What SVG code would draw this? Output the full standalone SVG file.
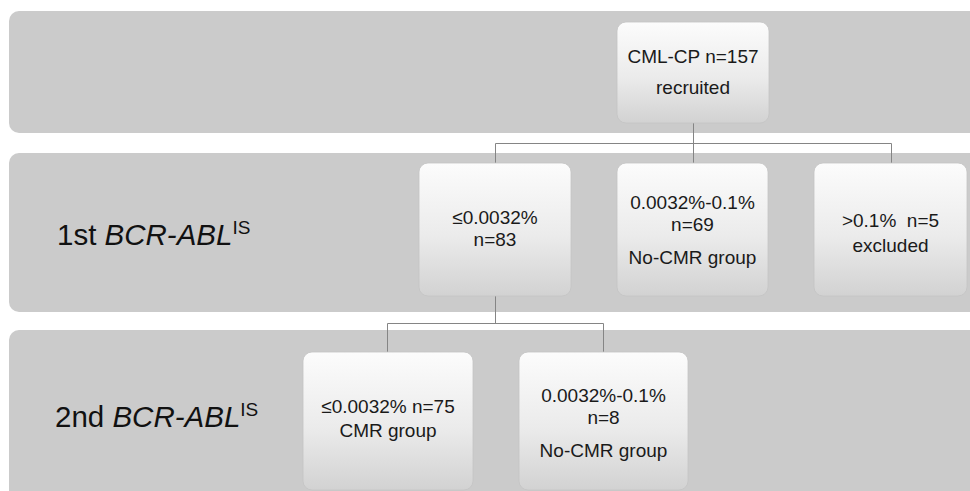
<svg xmlns="http://www.w3.org/2000/svg" width="970" height="491" viewBox="0 0 970 491">
<defs>
<linearGradient id="ng" x1="0" y1="0" x2="0" y2="1">
<stop offset="0" stop-color="#fcfcfc"/>
<stop offset="0.55" stop-color="#ebebeb"/>
<stop offset="1" stop-color="#d2d2d2"/>
</linearGradient>
<style>
.band{fill:#cbcbcb;}
.node{fill:url(#ng);stroke:#c4c4c4;stroke-width:0.8;}
.nt{font-family:"Liberation Sans",Arial,sans-serif;font-size:19px;fill:#1a1a1a;text-anchor:middle;}
.lab{font-family:"Liberation Sans",Arial,sans-serif;font-size:29.5px;fill:#111;}
.sup{font-size:19px;}
.conn{fill:none;stroke:#858585;stroke-width:1;}
</style>
</defs>
<rect width="970" height="491" fill="#ffffff"/>
<g id="bands">
<rect class="band" x="9" y="11" width="990" height="122" rx="10"/>
<rect class="band" x="9" y="153" width="990" height="159" rx="10"/>
<rect class="band" x="9" y="330" width="990" height="190" rx="10"/>
</g>
<g id="labels">
<text class="lab" x="57" y="245">1st <tspan font-style="italic">BCR-ABL</tspan><tspan class="sup" dy="-11">IS</tspan></text>
<text class="lab" x="55" y="427">2nd <tspan font-style="italic">BCR-ABL</tspan><tspan class="sup" dy="-11">IS</tspan></text>
</g>
<g id="connectors">
<path class="conn" d="M693.5 123V143.5M495.5 143.5H891.5M495.5 143.5V163M693.5 143.5V163M891.5 143.5V164"/>
<path class="conn" d="M495.5 296V323.5M387.5 323.5H603.5M387.5 323.5V352M603.5 323.5V352"/>
</g>
<g id="n-recruited">
<rect class="node" x="617" y="22" width="152" height="101" rx="9"/>
<text class="nt" x="693" y="63">CML-CP n=157</text>
<text class="nt" x="693" y="94">recruited</text>
</g>
<g id="n-1st-low">
<rect class="node" x="419" y="163" width="152" height="133" rx="9"/>
<text class="nt" x="495" y="224">≤0.0032%</text>
<text class="nt" x="495" y="246">n=83</text>
</g>
<g id="n-1st-mid">
<rect class="node" x="617" y="163" width="151" height="133" rx="9"/>
<text class="nt" x="692.5" y="209">0.0032%-0.1%</text>
<text class="nt" x="692.5" y="231">n=69</text>
<text class="nt" x="692.5" y="264">No-CMR group</text>
</g>
<g id="n-1st-high">
<rect class="node" x="814" y="163" width="153" height="133" rx="9"/>
<text class="nt" x="890.5" y="227" style="white-space:pre">&gt;0.1%  n=5</text>
<text class="nt" x="890.5" y="252">excluded</text>
</g>
<g id="n-2nd-cmr">
<rect class="node" x="303" y="352" width="170" height="138" rx="9"/>
<text class="nt" x="388" y="413">≤0.0032% n=75</text>
<text class="nt" x="388" y="437">CMR group</text>
</g>
<g id="n-2nd-nocmr">
<rect class="node" x="519" y="352" width="169" height="138" rx="9"/>
<text class="nt" x="603.5" y="402">0.0032%-0.1%</text>
<text class="nt" x="603.5" y="424">n=8</text>
<text class="nt" x="603.5" y="457">No-CMR group</text>
</g>
</svg>
